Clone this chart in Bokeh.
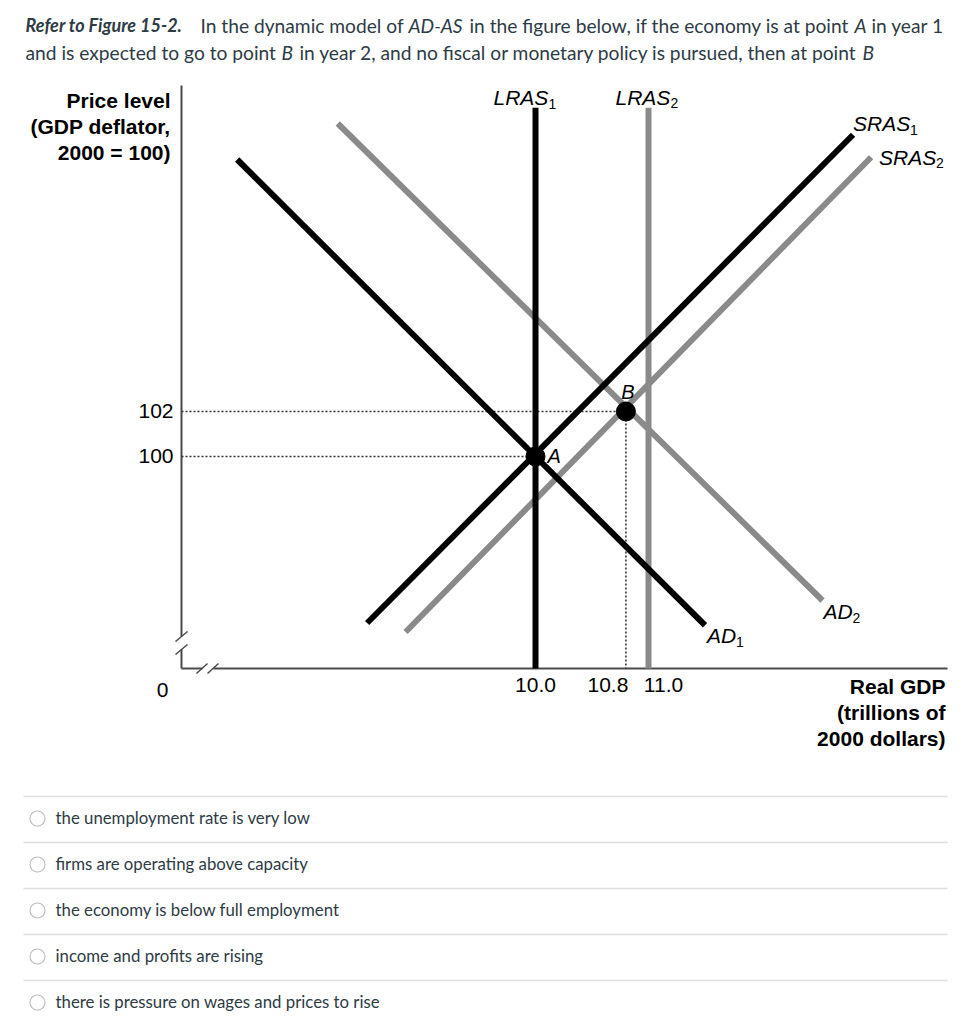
from bokeh.plotting import figure
from bokeh.models import Range1d
from bokeh.core.properties import value
from bokeh.embed import file_html
from bokeh.resources import INLINE

# ---------------- data ----------------
gdp_ticks = [10.0, 10.8, 11.0]
gdp_tick_labels = ["10.0", "10.8", "11.0"]
price_ticks = [100, 102]
price_tick_labels = ["100", "102"]

lras_gdp = [10.0, 11.0]
lras_top = [115.5, 115.5]
lras_names = ["LRAS", "LRAS"]
lras_subs = ["1", "2"]

ad1_gdp = [7.36, 11.50]
ad1_price = [113.2, 92.5]
ad2_gdp = [8.25, 12.54]
ad2_price = [114.8, 93.6]
sras1_gdp = [8.51, 12.81]
sras1_price = [92.6, 114.3]
sras2_gdp = [8.85, 12.97]
sras2_price = [92.2, 113.3]

point_names = ["A", "B"]
point_gdp = [10.0, 10.8]
point_price = [100.0, 102.0]

y_title_lines = ["Price level", "(GDP deflator,", "2000 = 100)"]
x_title_lines = ["Real GDP", "(trillions of", "2000 dollars)"]

options = [
    "the unemployment rate is very low",
    "firms are operating above capacity",
    "the economy is below full employment",
    "income and profits are rising",
    "there is pressure on wages and prices to rise",
]

# ---------------- layout helpers (pixel layout -> data units) ----------------
W, H = 972, 1024
X_REF_PX, X_PX_PER_UNIT = 535, 113.0
Y_REF_PX, Y_PX_PER_UNIT = 456, 22.5


def gx(px):
    return 10.0 + (px - X_REF_PX) / X_PX_PER_UNIT


def gy(py):
    return 100.0 + (Y_REF_PX - py) / Y_PX_PER_UNIT


BLACK = "#000000"
GRAY = "#8a8a8a"
AXIS_C = "#4a4a4a"
TXT_C = "#2d3b45"
SANS = "Liberation Sans"
HDR = "Lato"
BASE_FIX = 0.335  # baseline correction, fraction of font size

p = figure(width=W, height=H,
           x_range=Range1d(gx(0), gx(W)), y_range=Range1d(gy(H), gy(0)),
           x_axis_type=None, y_axis_type=None,
           toolbar_location=None, output_backend="svg",
           min_border=0, outline_line_color=None,
           background_fill_color="white", border_fill_color="white")


def T(x, y, text, size, font=SANS, style="normal", align="left",
      dx=0, dy=0, color=BLACK):
    n = len(text)
    dxs = dx if isinstance(dx, list) else [dx] * n
    dys = dy if isinstance(dy, list) else [dy] * n
    p.text(x=x, y=y, text=text,
           x_offset=dxs, y_offset=[d - BASE_FIX * size for d in dys],
           text_align=align, text_baseline="alphabetic",
           text_font=value(font), text_font_style=style,
           text_font_size=f"{size}px", text_color=color)


AX_X = gx(181)
AX_Y = gy(668)

# ---------------- axes with breaks ----------------
p.segment(x0=[AX_X, AX_X, AX_X, gx(213)],
          y0=[gy(85), gy(649), AX_Y, AX_Y],
          x1=[AX_X, AX_X, gx(202), gx(947)],
          y1=[gy(636), AX_Y, AX_Y, AX_Y],
          line_color=AXIS_C, line_width=2)
p.segment(x0=[gx(175), gx(175), gx(196), gx(207)],
          y0=[gy(641), gy(654), gy(673), gy(673)],
          x1=[gx(187), gx(187), gx(207), gx(218)],
          y1=[gy(631), gy(644), gy(663), gy(663)],
          line_color=AXIS_C, line_width=1.5)

# ---------------- dotted guide lines ----------------
p.segment(x0=[AX_X] * len(point_gdp), y0=point_price, x1=point_gdp, y1=point_price,
          line_color="#333333", line_width=1.6, line_dash="2 2")
p.segment(x0=point_gdp, y0=point_price, x1=point_gdp, y1=[AX_Y] * len(point_gdp),
          line_color="#333333", line_width=1.6, line_dash="2 2")

# ---------------- curves (gray first, black on top) ----------------
p.segment(x0=[lras_gdp[1]], y0=[AX_Y], x1=[lras_gdp[1]], y1=[lras_top[1]],
          line_color=GRAY, line_width=6)
p.line(ad2_gdp, ad2_price, line_color=GRAY, line_width=6)
p.line(sras2_gdp, sras2_price, line_color=GRAY, line_width=6)
p.segment(x0=[lras_gdp[0]], y0=[AX_Y], x1=[lras_gdp[0]], y1=[lras_top[0]],
          line_color=BLACK, line_width=6)
p.line(ad1_gdp, ad1_price, line_color=BLACK, line_width=6)
p.line(sras1_gdp, sras1_price, line_color=BLACK, line_width=6)

p.scatter(point_gdp, point_price, size=19, color=BLACK)

# ---------------- tick labels ----------------
T(gdp_ticks, [AX_Y] * len(gdp_ticks), gdp_tick_labels, 21, align="center",
  dx=[0, -18, 15], dy=24)
T([AX_X] * len(price_ticks), price_ticks, price_tick_labels, 21, align="right",
  dx=-8, dy=7)
T([AX_X], [AX_Y], ["0"], 21, align="center", dx=-19, dy=29)

# ---------------- axis titles ----------------
T([gx(170)] * 3, [gy(107), gy(133), gy(159)], y_title_lines, 21,
  style="bold", align="right")
T([gx(945)] * 3, [gy(693), gy(719), gy(745)], x_title_lines, 21,
  style="bold", align="right")


# ---------------- curve labels ----------------
def curve_label(x, y, main, sub, dx, dy, sub_dx, sub_dy):
    T([x], [y], [main], 21, style="italic", dx=dx, dy=dy)
    T([x], [y], [sub], 14, dx=sub_dx, dy=sub_dy)


curve_label(lras_gdp[0], lras_top[0], lras_names[0], lras_subs[0], -42, -3, 13, 1)
curve_label(lras_gdp[1], lras_top[1], lras_names[1], lras_subs[1], -33, -3, 22, 0)
curve_label(sras1_gdp[-1], sras1_price[-1], "SRAS", "1", 0, -4, 57, 0)
curve_label(sras2_gdp[-1], sras2_price[-1], "SRAS", "2", 8, 7, 65, 10)
curve_label(ad1_gdp[-1], ad1_price[-1], "AD", "1", 2, 17, 31, 21)
curve_label(ad2_gdp[-1], ad2_price[-1], "AD", "2", 1, 18, 30, 22)

# point labels
T([point_gdp[0]], [point_price[0]], [point_names[0]], 20, style="italic",
  dx=12, dy=6)
T([point_gdp[1]], [point_price[1]], [point_names[1]], 20, style="italic",
  align="center", dx=2, dy=-13)

# ---------------- question header ----------------
header_segments = [
    # (text, style, size, x px, baseline px)
    ("Refer to Figure 15-2.", "bold italic", 18, 25, 31),
    ("In the dynamic model of", "normal", 19.2, 200, 31),
    ("AD-AS", "italic", 19.2, 408, 31),
    ("in the figure below, if the economy is at point", "normal", 19.2, 469, 31),
    ("A", "italic", 19.2, 854, 31),
    ("in year 1", "normal", 19.2, 871, 31),
    ("and is expected to go to point", "normal", 19.2, 25, 58),
    ("B", "italic", 19.2, 281, 58),
    ("in year 2, and no fiscal or monetary policy is pursued, then at point", "normal", 19.2, 299, 58),
    ("B", "italic", 19.2, 862, 58),
]
for txt, style, size, px, py in header_segments:
    T([gx(px)], [gy(py)], [txt], size, font=HDR, style=style, color=TXT_C)

# ---------------- answer options ----------------
OPT_SEP0, OPT_STEP = 796, 46
n = len(options)
sep_y = [gy(OPT_SEP0 + i * OPT_STEP) for i in range(n)]
p.segment(x0=[gx(23)] * n, y0=sep_y, x1=[gx(947)] * n, y1=sep_y,
          line_color="#dedede", line_width=1.5)
radio_y = [gy(OPT_SEP0 + 22 + i * OPT_STEP) for i in range(n)]
p.scatter(x=[gx(37)] * n, y=radio_y, size=15, marker="circle",
          fill_color="white", line_color="#bdbdbd", line_width=1.2)
text_y = [gy(OPT_SEP0 + 27 + i * OPT_STEP) for i in range(n)]
T([gx(55)] * n, text_y, options, 16.8, font=HDR, color=TXT_C)

open("out.html", "w").write(file_html(p, INLINE))
